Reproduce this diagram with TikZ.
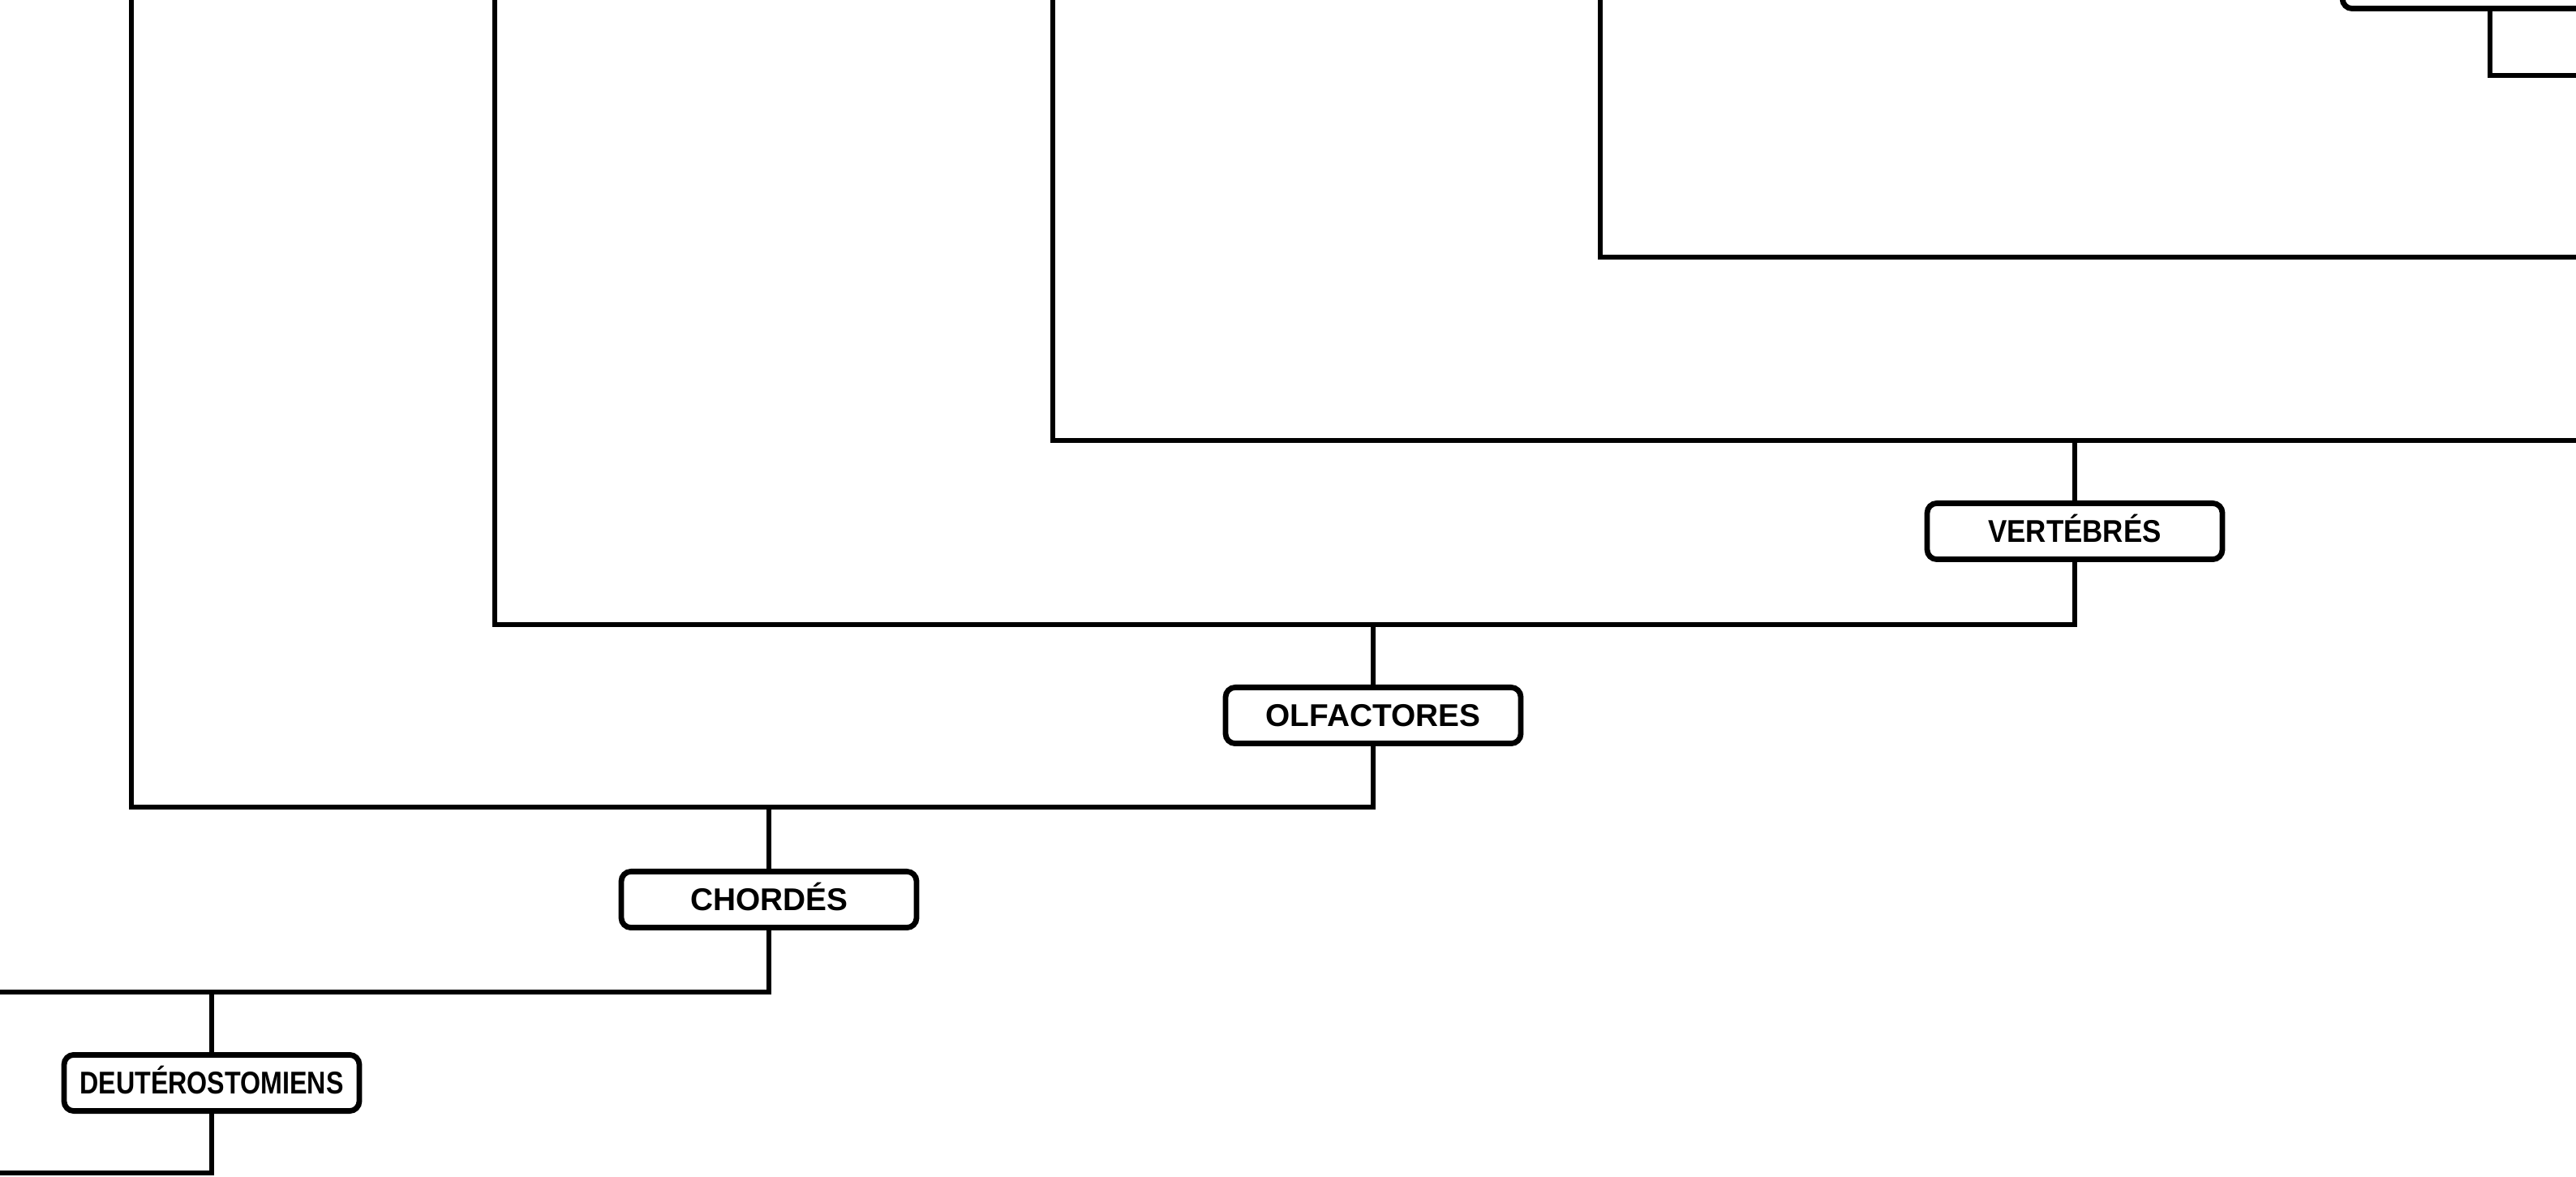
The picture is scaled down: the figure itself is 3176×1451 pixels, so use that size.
\documentclass[tikz,border=0pt]{standalone}
\usepackage{fontspec}
\setmainfont{Liberation Sans}
\begin{document}
\begin{tikzpicture}[x=0.25pt,y=-0.25pt,
  line width=1.7pt,
  clade/.style={draw, rounded corners=3pt, fill=white, minimum width=91pt, minimum height=17.3pt,
    inner sep=0pt, font=\fontsize{9.7}{10}\selectfont\bfseries, text height=6.9pt, text depth=0pt}]
\useasboundingbox (0,0) rectangle (3176,1451);
\clip (0,0) rectangle (3176,1451);
% label boxes
\node[clade] (vert) at (2558,655) {\scalebox{0.9}[1]{VERTÉBRÉS}};
\node[clade] (olf) at (1693,882) {OLFACTORES};
\node[clade] (chd) at (948,1109) {CHORDÉS};
\node[clade] (deu) at (261,1335) {\scalebox{0.83}[1]{DEUTÉROSTOMIENS}};
\node[clade] (tr) at (3070,-24) {};
% coordinates
\coordinate (t1) at (162,-20);  \coordinate (j1) at (162,995);
\coordinate (t2) at (610,-20);  \coordinate (j2) at (610,770);
\coordinate (t3) at (1298,-20); \coordinate (j3) at (1298,543); \coordinate (e3) at (3200,543);
\coordinate (t4) at (1973,-20); \coordinate (j4) at (1973,317); \coordinate (e4) at (3200,317);
\coordinate (e5) at (3200,93);
\coordinate (l6) at (-20,1223);
\coordinate (l7) at (-20,1446);
% connectors
\draw (t1) -- (j1) -| (olf.south);
\draw (t2) -- (j2) -| (vert.south);
\draw (t3) -- (j3) -- (e3);
\draw (t4) -- (j4) -- (e4);
\draw (tr.south) |- (e5);
\draw (vert.north) -- (vert.north |- j3);
\draw (olf.north) -- (olf.north |- j2);
\draw (chd.north) -- (chd.north |- j1);
\draw (l6) -| (chd.south);
\draw (deu.north) -- (deu.north |- l6);
\draw (deu.south) |- (l7);
\end{tikzpicture}
\end{document}
